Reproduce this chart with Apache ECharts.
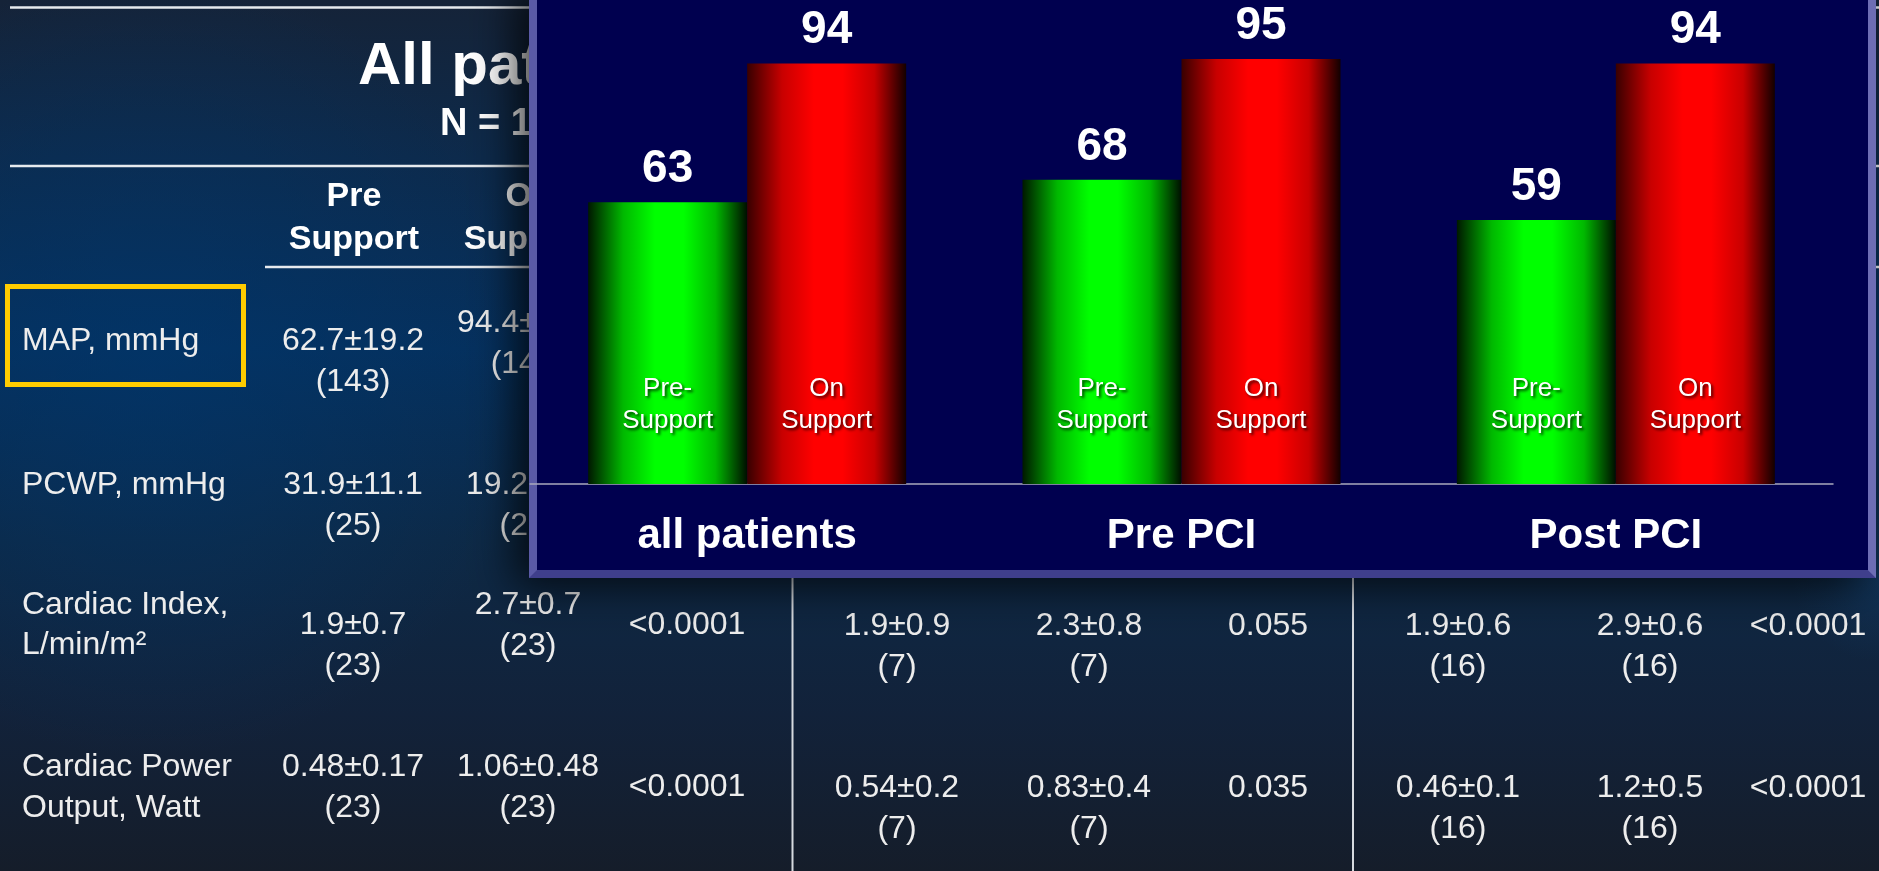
<!DOCTYPE html>
<html>
<head>
<meta charset="utf-8">
<title>MAP pre-support vs on support</title>
<script src="https://cdn.jsdelivr.net/npm/echarts@6/dist/echarts.min.js"></script>
<style>
  html, body { margin: 0; padding: 0; background: #0b2747; }
  #chart { width: 1879px; height: 871px; }
</style>
</head>
<body>
<div id="chart"></div>
<script>
// ---- bar chart data (MAP, mmHg) ----
const groups = ['all patients', 'Pre PCI', 'Post PCI'];
const preSupport = [63, 68, 59];
const onSupport = [94, 95, 94];
const barNames = ['Pre-\nSupport', 'On\nSupport'];

// ---- table behind the chart ----
const tableTitle = 'All patients';
const tableSubtitle = 'N = 143';
const colHeads = [['Pre', 'Support'], ['On', 'Support']];
const rowLabels = [['MAP, mmHg'], ['PCWP, mmHg'], ['Cardiac Index,', 'L/min/m²'], ['Cardiac Power', 'Output, Watt']];
const allPreVal = ['62.7±19.2', '31.9±11.1', '1.9±0.7', '0.48±0.17'];
const allPreN = ['(143)', '(25)', '(23)', '(23)'];
const allOnVal = ['94.4±19.9', '19.2±8.6', '2.7±0.7', '1.06±0.48'];
const allOnN = ['(143)', '(25)', '(23)', '(23)'];
const allP = ['', '', '<0.0001', '<0.0001'];
const prePciPreVal = ['', '', '1.9±0.9', '0.54±0.2'];
const prePciPreN = ['', '', '(7)', '(7)'];
const prePciOnVal = ['', '', '2.3±0.8', '0.83±0.4'];
const prePciOnN = ['', '', '(7)', '(7)'];
const prePciP = ['', '', '0.055', '0.035'];
const postPciPreVal = ['', '', '1.9±0.6', '0.46±0.1'];
const postPciPreN = ['', '', '(16)', '(16)'];
const postPciOnVal = ['', '', '2.9±0.6', '1.2±0.5'];
const postPciOnN = ['', '', '(16)', '(16)'];
const postPciP = ['', '', '<0.0001', '<0.0001'];

// ---- layout ----
const W = 1879, H = 871;
const FONT = '"Liberation Sans", Arial, sans-serif';
const TXT = '#ededed';
const LINE = '#e6eaee';
const TY = 3;                            // nudge so glyphs sit on their visual centre
const rowY = [338, 482, 622, 764];       // first-line centre of the "Pre Support" column
const onRowY = [320, 482, 602, 764];     // "On Support" column sits a little higher
const labelY = [[338], [482], [602, 642], [764, 805]];
const pRowY = [338, 482, 622, 784];
const subRowY = [338, 482, 623, 785];
const nGap = 41;
const CELL = 32;

const g = [];
function txt(text, x, y, size, opts) {
  if (!text) return;
  opts = opts || {};
  g.push({
    type: 'text', z: opts.z || 3, silent: true,
    style: {
      text: text, x: x, y: y + TY,
      font: (opts.bold ? 'bold ' : '') + size + 'px ' + FONT,
      fill: opts.fill || TXT,
      textAlign: opts.align || 'center',
      textVerticalAlign: 'middle'
    }
  });
}
function hline(x1, x2, y, w) {
  g.push({ type: 'line', z: 3, silent: true, shape: { x1: x1, y1: y, x2: x2, y2: y }, style: { stroke: LINE, lineWidth: w } });
}
function vline(x, y1, y2) {
  g.push({ type: 'line', z: 3, silent: true, shape: { x1: x, y1: y1, x2: x, y2: y2 }, style: { stroke: '#d6dadf', lineWidth: 2 } });
}

// slide background
g.push({
  type: 'rect', z: 0, silent: true, shape: { x: 0, y: 0, width: W, height: H },
  style: { fill: { type: 'linear', x: 0, y: 0, x2: 0, y2: 1, colorStops: [
    { offset: 0, color: '#152338' }, { offset: 0.18, color: '#0d2a4b' },
    { offset: 0.4, color: '#05305d' }, { offset: 0.62, color: '#0d2946' },
    { offset: 0.82, color: '#12223a' }, { offset: 1, color: '#151d2a' } ] } }
});
g.push({
  type: 'rect', z: 1, silent: true, shape: { x: 0, y: 0, width: W, height: H },
  style: { fill: { type: 'radial', x: 0.08, y: 0.42, r: 0.45, colorStops: [
    { offset: 0, color: 'rgba(0,55,110,0.55)' }, { offset: 1, color: 'rgba(0,55,110,0)' } ] } }
});
g.push({
  type: 'rect', z: 1, silent: true, shape: { x: 0, y: 0, width: W, height: H },
  style: { fill: { type: 'radial', x: 1.0, y: 0.66, r: 0.1, colorStops: [
    { offset: 0, color: 'rgba(20,75,130,0.3)' }, { offset: 1, color: 'rgba(20,75,130,0)' } ] } }
});

// table rules
hline(10, W, 7.5, 2.5);
hline(10, W, 166, 2.5);
hline(265, W, 267, 2.5);
vline(792.5, 560, H);
vline(1353, 560, H);

// title and column heads
txt(tableTitle, 358, 64, 60, { bold: true, align: 'left', fill: '#ffffff' });
txt(tableSubtitle, 440, 122, 38, { bold: true, align: 'left', fill: '#ffffff' });
txt(colHeads[0][0], 354, 194, 34, { bold: true, fill: '#ffffff' });
txt(colHeads[0][1], 354, 237, 34, { bold: true, fill: '#ffffff' });
txt(colHeads[1][0], 529, 194, 34, { bold: true, fill: '#ffffff' });
txt(colHeads[1][1], 529, 237, 34, { bold: true, fill: '#ffffff' });

// highlight box round the MAP row label
g.push({ type: 'rect', z: 3, silent: true, shape: { x: 7.5, y: 286.5, width: 236, height: 98 },
  style: { fill: 'none', stroke: '#ffcc00', lineWidth: 5 } });

rowLabels.forEach(function (lines, i) {
  lines.forEach(function (t, k) { txt(t, 22, labelY[i][k], CELL, { align: 'left' }); });
  txt(allPreVal[i], 353, rowY[i], CELL); txt(allPreN[i], 353, rowY[i] + nGap, CELL);
  txt(allOnVal[i], 528, onRowY[i], CELL); txt(allOnN[i], 528, onRowY[i] + nGap, CELL);
  txt(allP[i], 687, pRowY[i], CELL);
  txt(prePciPreVal[i], 897, subRowY[i], CELL); txt(prePciPreN[i], 897, subRowY[i] + nGap, CELL);
  txt(prePciOnVal[i], 1089, subRowY[i], CELL); txt(prePciOnN[i], 1089, subRowY[i] + nGap, CELL);
  txt(prePciP[i], 1268, subRowY[i], CELL);
  txt(postPciPreVal[i], 1458, subRowY[i], CELL); txt(postPciPreN[i], 1458, subRowY[i] + nGap, CELL);
  txt(postPciOnVal[i], 1650, subRowY[i], CELL); txt(postPciOnN[i], 1650, subRowY[i] + nGap, CELL);
  txt(postPciP[i], 1808, subRowY[i], CELL);
});

// chart panel with bevelled frame and drop shadow
const PX = 529, PR = 1876, PB = 578, BV = 8;
g.push({ type: 'rect', z: 4, silent: true, shape: { x: PX, y: -20, width: PR - PX, height: PB + 20 },
  style: { fill: '#5a5aa6', shadowBlur: 40, shadowOffsetX: -14, shadowOffsetY: 8, shadowColor: 'rgba(0,0,0,0.75)' } });
g.push({ type: 'polygon', z: 5, silent: true,
  shape: { points: [[PX, PB], [PR, PB], [PR - BV, PB - BV], [PX + BV, PB - BV]] }, style: { fill: '#3f3f8c' } });
g.push({ type: 'polygon', z: 5, silent: true,
  shape: { points: [[PR, -20], [PR, PB], [PR - BV, PB - BV], [PR - BV, -20]] }, style: { fill: '#6d6db4' } });
g.push({ type: 'rect', z: 6, silent: true, shape: { x: PX + BV, y: -20, width: PR - PX - 2 * BV, height: PB - BV + 20 },
  style: { fill: '#00004f' } });

function barGradient(edgeL, mid, bright, edgeR) {
  return { type: 'linear', x: 0, y: 0, x2: 1, y2: 0, colorStops: [
    { offset: 0, color: edgeL }, { offset: 0.22, color: mid }, { offset: 0.42, color: bright },
    { offset: 0.6, color: bright }, { offset: 0.8, color: mid }, { offset: 1, color: edgeR } ] };
}
const greenFill = barGradient('#001800', '#00b800', '#00ff00', '#000e00');
const redFill = barGradient('#380000', '#c80000', '#ff0000', '#120000');

const valueLabel = { show: true, position: 'top', distance: 10, color: '#ffffff',
  fontSize: 46, fontWeight: 'bold', fontFamily: FONT };
function nameLabel(text) {
  return { show: true, position: 'insideBottom', distance: 47, formatter: text, color: '#ffffff',
    fontSize: 26, lineHeight: 32, fontFamily: FONT, align: 'center',
    textShadowColor: 'rgba(0,0,0,0.75)', textShadowBlur: 3, textShadowOffsetX: 2, textShadowOffsetY: 2 };
}

const chart = echarts.init(document.getElementById('chart'), null, { renderer: 'canvas' });
chart.setOption({
  animation: false,
  backgroundColor: 'transparent',
  textStyle: { fontFamily: FONT },
  graphic: { elements: g },
  grid: { left: 530, right: 46, top: 36.7, bottom: 387 },
  xAxis: [
    { type: 'category', data: groups, z: 10,
      axisLine: { lineStyle: { color: '#a9a9bd', width: 1.5 } },
      axisTick: { show: false },
      axisLabel: { color: '#ffffff', fontSize: 42, fontWeight: 'bold', margin: 31, fontFamily: FONT } },
    { type: 'category', data: groups, show: false }
  ],
  yAxis: { type: 'value', min: 0, max: 100, show: false, splitLine: { show: false } },
  series: [
    { type: 'bar', name: 'Pre-Support', data: preSupport, xAxisIndex: 0, barWidth: 159, barGap: 0, z: 10,
      itemStyle: { color: greenFill }, label: valueLabel },
    { type: 'bar', name: 'On Support', data: onSupport, xAxisIndex: 0, barWidth: 159, barGap: 0, z: 10,
      itemStyle: { color: redFill }, label: valueLabel },
    { type: 'bar', data: preSupport, xAxisIndex: 1, barWidth: 159, barGap: 0, z: 11, silent: true,
      itemStyle: { color: 'rgba(0,0,0,0)' }, label: nameLabel(barNames[0]) },
    { type: 'bar', data: onSupport, xAxisIndex: 1, barWidth: 159, barGap: 0, z: 11, silent: true,
      itemStyle: { color: 'rgba(0,0,0,0)' }, label: nameLabel(barNames[1]) }
  ]
});
</script>
</body>
</html>
